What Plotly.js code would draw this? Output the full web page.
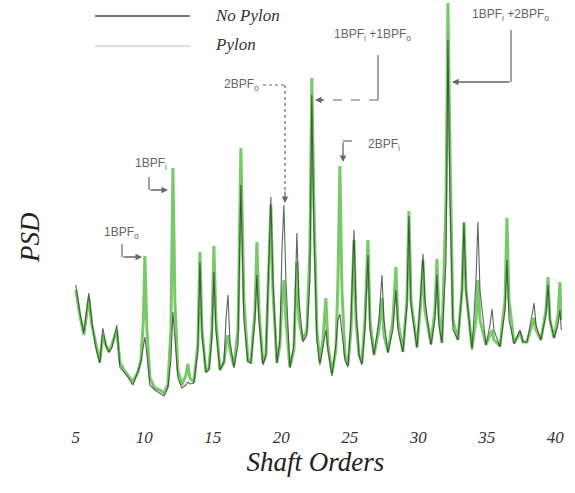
<!DOCTYPE html>
<html>
<head>
<meta charset="utf-8">
<script src="https://cdn.plot.ly/plotly-3.0.1.min.js"></script>
<style>html,body{margin:0;padding:0;background:#fff;}#chart{width:575px;height:493px;}</style>
</head>
<body>
<div id="chart"></div>
<script>
// Shaft orders (x) shared by both spectra
var orders = [5.00,5.29,5.58,5.80,5.95,6.17,6.46,6.75,6.97,7.19,
7.41,7.63,7.99,8.21,8.51,8.80,9.16,9.53,9.75,9.93,
10.04,10.19,10.41,10.77,11.14,11.43,11.72,11.94,12.09,12.23,
12.45,12.74,13.04,13.18,13.33,13.62,13.91,14.06,14.21,14.50,
14.72,14.93,15.08,15.23,15.52,15.82,15.96,16.11,16.25,16.54,
16.84,17.05,17.27,17.56,17.78,18.08,18.22,18.37,18.66,18.88,
19.09,19.24,19.39,19.68,19.90,20.05,20.19,20.34,20.63,20.92,
21.14,21.29,21.58,21.87,22.09,22.23,22.38,22.60,22.82,23.04,
23.26,23.41,23.70,23.99,24.14,24.28,24.43,24.65,24.87,25.09,
25.31,25.46,25.68,25.89,26.11,26.33,26.48,26.77,27.13,27.35,
27.50,27.79,28.15,28.37,28.52,28.88,29.18,29.32,29.47,29.91,
30.20,30.35,30.49,30.93,31.22,31.37,31.51,31.73,32.03,32.17,
32.32,32.54,32.90,33.20,33.34,33.49,33.93,34.22,34.36,34.51,
34.95,35.24,35.39,35.53,35.97,36.34,36.48,36.63,37.00,37.29,
37.43,37.65,37.94,38.31,38.46,38.60,38.96,39.33,39.48,39.62,
39.92,40.21,40.35,40.45];

// PSD with pylon (green)
var psdPylon = [11.0,8.5,6.5,8.5,10.2,7.5,5.5,3.8,6.5,5.5,
4.8,5.5,7.0,3.8,3.0,2.5,1.8,2.8,4.0,8.0,
14.4,7.0,2.2,1.2,1.0,0.7,1.5,7.0,23.2,10.0,
3.0,1.5,2.5,3.6,2.2,1.8,5.5,14.8,7.0,2.8,
3.2,7.0,15.4,8.0,3.0,3.8,5.5,6.5,5.0,3.4,
7.0,25.2,10.0,4.0,3.8,9.0,15.8,9.0,3.7,4.5,
13.0,19.5,11.0,3.7,5.5,10.0,12.0,8.0,3.3,5.0,
13.8,8.0,6.0,7.0,15.0,32.2,20.0,7.0,3.8,6.0,
10.2,5.5,2.7,5.0,12.0,23.4,11.0,4.5,3.5,7.0,
16.0,8.0,4.5,3.7,8.0,16.0,8.0,4.5,7.0,10.2,
6.5,4.8,8.0,13.3,8.0,4.8,10.0,18.9,10.0,5.3,
10.0,14.0,9.0,5.6,9.0,14.1,8.5,5.7,20.0,39.7,
25.0,8.0,6.0,11.0,17.8,11.0,5.2,8.0,12.0,8.0,
5.5,6.5,7.0,6.0,5.4,10.0,18.2,10.0,5.7,6.4,
6.8,5.8,5.8,7.5,8.2,7.0,6.0,9.0,12.3,8.0,
6.2,8.5,11.8,8.0];

// PSD without pylon (dark)
var psdNoPylon = [11.5,8.8,6.7,9.0,10.7,7.8,5.2,3.7,7.2,5.5,
4.8,5.2,7.5,3.3,2.8,2.3,1.5,2.8,3.8,5.5,
6.3,4.5,1.5,1.0,0.7,0.4,1.2,4.0,8.8,6.0,
2.2,1.2,1.5,1.8,1.6,1.7,5.0,13.8,6.5,2.8,
3.0,6.0,12.8,7.0,3.0,3.8,8.0,10.5,6.0,3.2,
5.5,21.5,8.0,3.8,3.7,8.0,12.5,8.0,3.5,4.5,
13.5,20.3,12.0,3.7,6.0,15.0,19.5,12.0,3.2,5.5,
16.7,10.0,5.8,6.5,12.0,30.5,17.0,6.0,3.5,5.5,
7.0,5.0,2.4,5.5,8.0,8.6,6.5,4.0,3.3,8.0,
17.0,9.0,4.5,3.5,7.0,14.5,7.0,4.5,8.0,12.5,
8.0,4.7,7.0,11.0,7.0,4.8,9.5,18.4,9.5,5.2,
11.0,14.6,10.0,5.5,8.0,12.5,7.5,5.7,14.0,36.0,
20.0,7.0,6.0,11.0,17.7,11.0,5.0,12.0,17.8,11.0,
5.5,7.5,9.1,7.0,5.3,9.0,14.0,8.0,5.6,6.5,
7.0,5.8,5.8,8.5,9.7,7.5,6.0,8.5,11.5,8.0,
6.2,7.5,9.0,7.0];

var tickVals = [5,10,15,20,25,30,35,40];
var tickText = ['5','10','15','20','25','30','35','40'];
var seriesNames = ['No Pylon','Pylon'];

// pixel -> paper helpers for decorations
var L = 69, W = 493, H = 425;
function X(px){ return (px - L) / W; }
function Y(py){ return (H - py) / H; }

var serif = "'Liberation Serif', 'DejaVu Serif', serif";
var sans = "'Liberation Sans Narrow', 'Liberation Sans', 'DejaVu Sans', sans-serif";
var annColor = '#666';

var traces = [
  {x: orders, y: psdPylon, name: seriesNames[1], type: 'scatter', mode: 'lines',
   line: {color: 'rgba(105,195,88,0.9)', width: 3}, showlegend: false},
  {x: orders, y: psdNoPylon, name: seriesNames[0], type: 'scatter', mode: 'lines',
   line: {color: 'rgba(50,62,50,0.8)', width: 1.1}, showlegend: false}
];

function seg(x0,y0,x1,y1,dash){
  return {type:'line', xref:'paper', yref:'paper', x0:X(x0), y0:Y(y0), x1:X(x1), y1:Y(y1),
          line:{color:annColor, width:1.2, dash: dash || 'solid'}};
}
function arrow(tipx,tipy,tailx,taily){
  return {xref:'paper', yref:'paper', x:X(tipx), y:Y(tipy), ax:tailx-tipx, ay:taily-tipy,
          text:'', showarrow:true, arrowhead:2, arrowsize:1, arrowwidth:1.3, arrowcolor:annColor};
}
function label(txt,px,py,anchor){
  return {xref:'paper', yref:'paper', x:X(px), y:Y(py), text:txt, showarrow:false,
          xanchor: anchor || 'center', yanchor:'middle',
          font:{family:sans, size:12, color:annColor}};
}

var shapes = [
  // legend samples
  {type:'line', xref:'paper', yref:'paper', x0:X(95), x1:X(190), y0:Y(16), y1:Y(16), line:{color:'#4a4a4a', width:1.5}},
  {type:'line', xref:'paper', yref:'paper', x0:X(95), x1:X(190), y0:Y(46), y1:Y(46), line:{color:'#c9dcc6', width:1.5}},
  seg(122,244,122,257),
  seg(149,177,149,190),
  seg(263,85,285,85,'dot'), seg(285,85,285,192,'dot'),
  seg(378,55,378,100), seg(378,100,322,100,'dash'),
  seg(511,30,511,82),
  seg(352,141,343,141)
];

var annotations = [
  {xref:'paper', yref:'paper', x:X(213), y:Y(16), text:seriesNames[0], showarrow:false, xanchor:'left', yanchor:'middle',
   font:{family:serif, size:17, color:'#333', style:'italic'}},
  {xref:'paper', yref:'paper', x:X(213), y:Y(45), text:seriesNames[1], showarrow:false, xanchor:'left', yanchor:'middle',
   font:{family:serif, size:17, color:'#333', style:'italic'}},
  {xref:'paper', yref:'paper', x:X(30), y:Y(238), text:'PSD', showarrow:false, textangle:-90,
   xanchor:'center', yanchor:'middle', font:{family:serif, size:27, color:'#222', style:'italic'}},
  label('1BPF<sub>o</sub>', 121, 233),
  arrow(142,257,122,257),
  label('1BPF<sub>i</sub>', 151, 164),
  arrow(168,190,149,190),
  label('2BPF<sub>o</sub>', 241, 85),
  arrow(285,203,285,190),
  label('1BPF<sub>i</sub> +1BPF<sub>o</sub>', 372, 35),
  arrow(315,100,325,100),
  label('1BPF<sub>i</sub> +2BPF<sub>o</sub>', 510, 15),
  arrow(452,82,511,82),
  label('2BPF<sub>i</sub>', 366, 145, 'left'),
  arrow(343,162,343,141)
];

var layout = {
  width: 575, height: 493,
  margin: {l: L, r: 575 - L - W, t: 0, b: 493 - H},
  paper_bgcolor: '#fff', plot_bgcolor: '#fff',
  showlegend: false,
  xaxis: {range: [4.5, 40.5], tickvals: tickVals, ticktext: tickText, showgrid: false, zeroline: false,
          showline: false, ticks: '', tickfont: {family: serif, size: 17, color: '#333', style: 'italic'},
          title: {text: 'Shaft Orders', standoff: 6, font: {family: serif, size: 27, color: '#222', style: 'italic'}}},
  yaxis: {range: [-2.5, 40], showgrid: false, zeroline: false, showline: false, showticklabels: false, ticks: ''},
  shapes: shapes,
  annotations: annotations
};

Plotly.newPlot('chart', traces, layout, {displayModeBar: false, staticPlot: true});
</script>
</body>
</html>
